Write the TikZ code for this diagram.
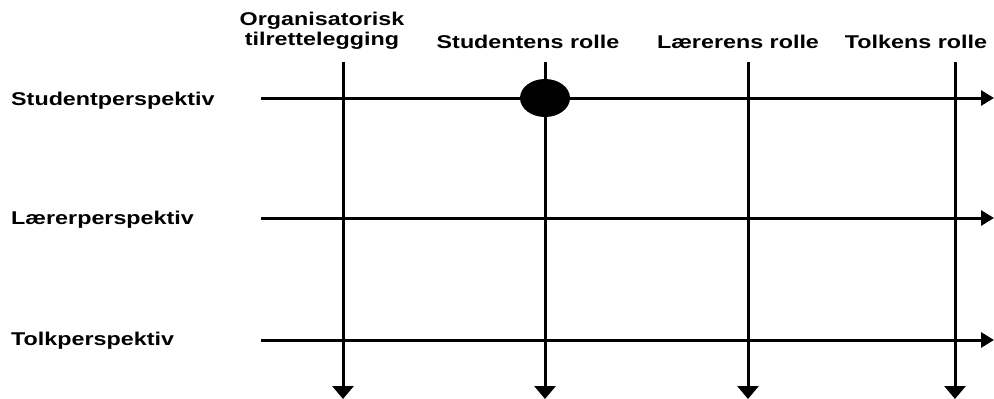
\documentclass[tikz,border=0pt]{standalone}
\usepackage{fontspec}
\setmainfont{Liberation Sans}[FakeStretch=1.26]
\usetikzlibrary{arrows.meta,shapes.geometric}
\begin{document}
\begin{tikzpicture}[x=1pt,y=-1pt,
  lbl/.style={font=\fontsize{18.5}{20}\selectfont\bfseries, inner sep=0pt, anchor=base},
  rowlbl/.style={lbl, anchor=base west},
  axis/.style={line width=3pt, -{Triangle[length=13pt,width=15pt]}},
  down/.style={line width=3pt, -{Triangle[length=13pt,width=21pt]}},
  mark dot/.style={ellipse, fill=black, minimum width=50pt, minimum height=38pt, inner sep=0pt}]
\useasboundingbox (0,0) rectangle (994,399);

% column headings
\node[lbl, align=center] (c1) at (322,45) {Organisatorisk\\tilrettelegging};
\node[lbl] (c2) at (528,48) {Studentens rolle};
\node[lbl] (c3) at (738,48) {Lærerens rolle};
\node[lbl] (c4) at (916,48) {Tolkens rolle};

% row headings
\node[rowlbl] (r1) at (11,105) {Studentperspektiv};
\node[rowlbl] (r2) at (11,224) {Lærerperspektiv};
\node[rowlbl] (r3) at (11,345) {Tolkperspektiv};

% end points of the axes
\foreach \x [count=\i] in {343,545,748,955} {
  \coordinate (t\i) at (\x,62);
  \coordinate (b\i) at (\x,399);
}
\foreach \y [count=\i] in {98,218,340} {
  \coordinate (l\i) at (261,\y);
  \coordinate (e\i) at (994,\y);
}

% vertical axes
\foreach \i in {1,...,4} \draw[down] (t\i) -- (b\i);
% horizontal axes
\foreach \i in {1,...,3} \draw[axis] (l\i) -- (e\i);

% marked crossing
\node[mark dot] (dot) at (545,98) {};
\end{tikzpicture}
\end{document}
